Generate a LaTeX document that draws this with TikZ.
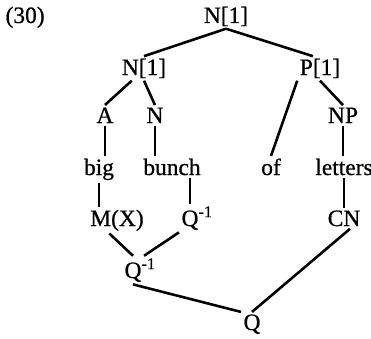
\documentclass[tikz,border=0pt]{standalone}
\usepackage{fontspec}
\setmainfont{Liberation Serif}
\begin{document}
\begin{tikzpicture}[x=0.03cm, y=-0.03cm,
		cat/.style={anchor=base, inner sep=2pt, font=\fontsize{20}{24}\selectfont\addfontfeatures{FakeBold=0.7}},
		edge/.style={line width=2.2pt}]
		\useasboundingbox (0,0) rectangle (371,338);
		%nummer
		\node[cat, anchor=base west] (num) at (3,23) {(30)};
		%oben
		\node[cat] (top) at (226,23) {N[1]};
		\node[cat] (nl) at (144,75) {N[1]};
		\node[cat] (pl) at (320,75) {P[1]};
		%kategorien
		\node[cat] (a) at (105,123) {A};
		\node[cat] (n) at (155,123) {N};
		\node[cat] (np) at (343,123) {NP};
		%woerter
		\node[cat] (big) at (99,175) {big};
		\node[cat] (bunch) at (172,175) {bunch};
		\node[cat] (of) at (271,175) {of};
		\node[cat] (letters) at (344,175) {letters};
		%unten
		\node[cat] (mx) at (117,226) {M(X)};
		\node[cat] (qa) at (190,226) {Q\rlap{\textsuperscript{-1}}};
		\node[cat] (cn) at (344,226) {CN};
		\node[cat] (qb) at (133,278) {Q\rlap{\textsuperscript{-1}}};
		\node[cat] (q) at (252,330) {Q};
		%kanten
		\draw[edge] (top.south) -- (nl.north);
		\draw[edge] (top.south) -- (pl.120);
		\draw[edge] (nl.-135) -- (a.north);
		\draw[edge] (nl.south) -- (n.north);
		\draw[edge] (pl.south west) -- (of.north);
		\draw[edge] (pl.south) -- (np.north);
		\draw[edge] (a.south) -- (a.south |- big.north);
		\draw[edge] (n.south) -- (n.south |- bunch.north);
		\draw[edge] (np.south) -- (np.south |- letters.north);
		\draw[edge] (big.south) -- (big.south |- mx.north);
		\draw[edge] (bunch.south -| qa.north) -- (qa.north);
		\draw[edge] (letters.south) -- (letters.south |- cn.north);
		\draw[edge] (mx.-120) -- (qb.north);
		\draw[edge] (qa.south west) -- (qb.north east);
		\draw[edge] (qb.south) -- (q.north west);
		\draw[edge] (cn.-60) -- (q.north);
	\end{tikzpicture}
\end{document}
